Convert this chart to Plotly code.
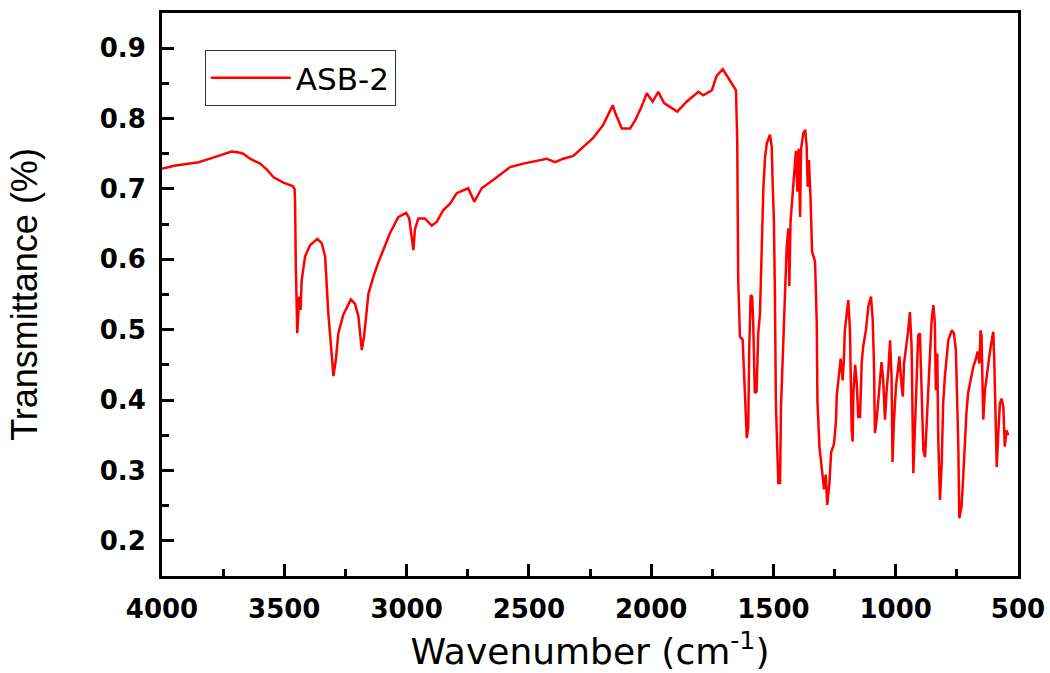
import plotly.graph_objects as go

wavenumber = [
    4000, 3995, 3950, 3886, 3850, 3804, 3760, 3715, 3690, 3668, 3640, 3599, 3570, 3545, 3504,
    3466, 3458, 3456, 3453, 3447, 3443, 3439, 3433, 3429, 3415, 3395, 3365, 3347, 3333, 3320,
    3310, 3299, 3289, 3279, 3259, 3228, 3211, 3197, 3183, 3174, 3156, 3136, 3115, 3095, 3068,
    3034, 3002, 2989, 2979, 2972, 2966, 2952, 2925, 2897, 2877, 2850, 2822, 2795, 2748, 2727,
    2723, 2710, 2693, 2645, 2577, 2523, 2482, 2427, 2393, 2359, 2318, 2277, 2236, 2196, 2157,
    2148, 2120, 2086, 2066, 2039, 2018, 1994, 1971, 1947, 1923, 1893, 1855, 1807, 1787, 1752,
    1732, 1707, 1685, 1664, 1653, 1648, 1644, 1637, 1626, 1616, 1609, 1603, 1599, 1593, 1587,
    1583, 1576, 1569, 1562, 1555, 1551, 1545, 1541, 1534, 1527, 1514, 1507, 1503, 1498, 1494,
    1490, 1480, 1473, 1469, 1464, 1460, 1453, 1446, 1439, 1435, 1430, 1421, 1416, 1408, 1402,
    1397, 1391, 1387, 1378, 1370, 1364, 1360, 1355, 1348, 1342, 1330, 1323, 1320, 1312, 1302,
    1293, 1286, 1280, 1271, 1264, 1252, 1244, 1241, 1231, 1225, 1217, 1212, 1208, 1201, 1194,
    1187, 1184, 1180, 1176, 1173, 1166, 1160, 1153, 1146, 1139, 1133, 1122, 1112, 1101, 1094,
    1089, 1085, 1078, 1071, 1064, 1058, 1051, 1044, 1037, 1030, 1023, 1017, 1013, 1007, 999,
    992, 985, 978, 971, 966, 958, 949, 942, 935, 928, 921, 914, 908, 901, 894,
    887, 880, 873, 867, 860, 853, 846, 840, 836, 830, 826, 819, 812, 806, 799,
    792, 785, 771, 762, 754, 748, 744, 740, 731, 724, 717, 711, 704, 694, 683,
    672, 665, 658, 653, 649, 642, 635, 628, 621, 614, 607, 601, 597, 593, 587,
    580, 574, 567, 560, 554, 547, 540,
]

transmittance = [
    0.730, 0.729, 0.733, 0.736, 0.738, 0.743, 0.748, 0.753, 0.752, 0.750, 0.743, 0.736, 0.727, 0.717, 0.709,
    0.704, 0.700, 0.684, 0.594, 0.495, 0.520, 0.547, 0.528, 0.570, 0.604, 0.620, 0.629, 0.623, 0.604, 0.523,
    0.481, 0.434, 0.458, 0.495, 0.521, 0.543, 0.537, 0.519, 0.471, 0.490, 0.551, 0.575, 0.596, 0.613, 0.637,
    0.660, 0.666, 0.658, 0.627, 0.613, 0.642, 0.658, 0.658, 0.648, 0.653, 0.670, 0.679, 0.694, 0.701, 0.684,
    0.682, 0.690, 0.701, 0.713, 0.731, 0.736, 0.739, 0.743, 0.738, 0.743, 0.747, 0.760, 0.773, 0.791, 0.819,
    0.809, 0.786, 0.786, 0.797, 0.817, 0.836, 0.824, 0.838, 0.822, 0.817, 0.810, 0.824, 0.838, 0.833, 0.840,
    0.861, 0.870, 0.858, 0.845, 0.840, 0.767, 0.573, 0.490, 0.486, 0.405, 0.346, 0.362, 0.471, 0.549, 0.547,
    0.514, 0.410, 0.412, 0.495, 0.523, 0.577, 0.644, 0.703, 0.746, 0.765, 0.777, 0.760, 0.706, 0.654, 0.552,
    0.396, 0.282, 0.282, 0.391, 0.441, 0.503, 0.552, 0.616, 0.644, 0.562, 0.654, 0.699, 0.728, 0.754, 0.696,
    0.757, 0.660, 0.757, 0.779, 0.784, 0.760, 0.703, 0.741, 0.685, 0.611, 0.597, 0.512, 0.398, 0.334, 0.300,
    0.273, 0.294, 0.251, 0.282, 0.326, 0.338, 0.372, 0.407, 0.438, 0.459, 0.428, 0.457, 0.499, 0.523, 0.542,
    0.499, 0.405, 0.357, 0.341, 0.410, 0.450, 0.428, 0.376, 0.376, 0.454, 0.476, 0.499, 0.533, 0.547, 0.514,
    0.452, 0.353, 0.372, 0.400, 0.433, 0.454, 0.428, 0.372, 0.414, 0.443, 0.485, 0.433, 0.312, 0.372, 0.419,
    0.445, 0.462, 0.428, 0.405, 0.452, 0.471, 0.499, 0.525, 0.476, 0.296, 0.357, 0.438, 0.492, 0.495, 0.419,
    0.329, 0.319, 0.372, 0.424, 0.476, 0.514, 0.535, 0.509, 0.414, 0.466, 0.343, 0.258, 0.310, 0.395, 0.433,
    0.466, 0.485, 0.499, 0.495, 0.471, 0.405, 0.334, 0.232, 0.248, 0.291, 0.343, 0.381, 0.410, 0.428, 0.447,
    0.459, 0.469, 0.452, 0.499, 0.490, 0.372, 0.414, 0.438, 0.452, 0.471, 0.485, 0.497, 0.457, 0.390, 0.305,
    0.357, 0.395, 0.402, 0.390, 0.334, 0.357, 0.350,
]

series_name = "ASB-2"
x_title = "Wavenumber (cm<sup>-1</sup>)"
y_title = "Transmittance (%)"

fig = go.Figure()
fig.add_trace(go.Scatter(
    x=wavenumber, y=transmittance, mode="lines", name=series_name,
    line=dict(color="#FF0000", width=2.5),
))

tick_font = dict(family="DejaVu Sans", size=26, color="black", weight="bold")

fig.update_layout(
    width=1050, height=673,
    margin=dict(l=162, r=32, t=13, b=97, autoexpand=False),
    paper_bgcolor="white", plot_bgcolor="white",
    showlegend=True,
    legend=dict(
        x=0.05, y=0.934, xanchor="left", yanchor="top",
        bordercolor="#333333", borderwidth=1, bgcolor="white",
        font=dict(family="DejaVu Sans", size=31, color="black"),
        itemwidth=80,
    ),
    xaxis=dict(
        range=[4000, 500], dtick=500, tick0=500, automargin=False,
        showgrid=False, zeroline=False,
        showline=True, linecolor="black", linewidth=3, mirror=True,
        ticks="inside", ticklen=12, tickwidth=3, tickcolor="black",
        minor=dict(dtick=250, ticks="inside", ticklen=7, tickwidth=3, tickcolor="black"),
        tickfont=tick_font, ticklabelstandoff=8,
        title=dict(text=x_title, font=dict(family="DejaVu Sans", size=36, color="black"), standoff=16),
    ),
    yaxis=dict(
        range=[0.15, 0.95], dtick=0.1, tick0=0.2, tickformat=".1f", automargin=False,
        showgrid=False, zeroline=False,
        showline=True, linecolor="black", linewidth=3, mirror=True,
        ticks="inside", ticklen=12, tickwidth=3, tickcolor="black",
        minor=dict(dtick=0.05, ticks="inside", ticklen=7, tickwidth=3, tickcolor="black"),
        tickfont=tick_font, ticklabelstandoff=8,
        title=dict(text=y_title, font=dict(family="Liberation Sans", size=36, color="black"), standoff=52),
    ),
)

fig.write_html("out.html")
